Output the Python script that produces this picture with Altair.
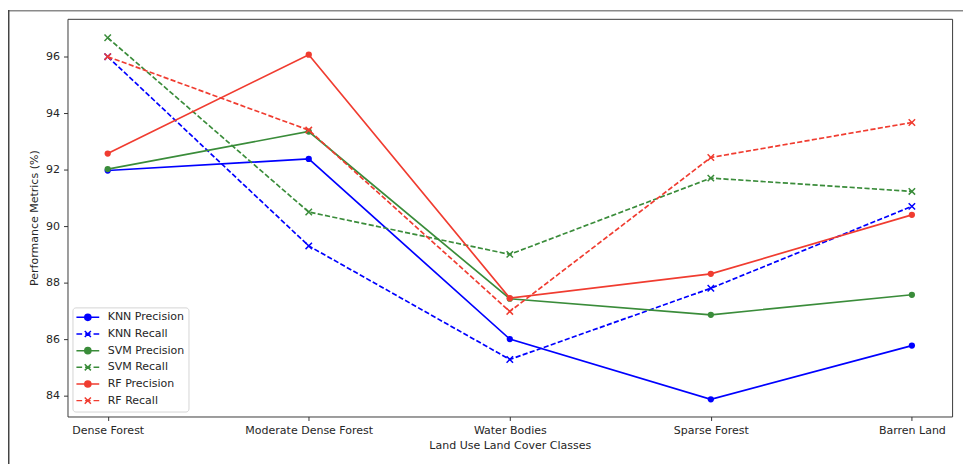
import altair as alt
import pandas as pd

categories = ["Dense Forest", "Moderate Dense Forest", "Water Bodies", "Sparse Forest", "Barren Land"]
series_names = ["KNN Precision", "KNN Recall", "SVM Precision", "SVM Recall", "RF Precision", "RF Recall"]
knn_precision = [91.97, 92.38, 86.00, 83.87, 85.77]
knn_recall = [96.00, 89.30, 85.28, 87.80, 90.70]
svm_precision = [92.02, 93.35, 87.43, 86.86, 87.57]
svm_recall = [96.67, 90.50, 89.00, 91.70, 91.23]
rf_precision = [92.57, 96.07, 87.45, 88.31, 90.40]
rf_recall = [96.00, 93.40, 86.98, 92.43, 93.67]
series_values = [knn_precision, knn_recall, svm_precision, svm_recall, rf_precision, rf_recall]
series_colors = ["#0000ff", "#0000ff", "#3a8c3a", "#3a8c3a", "#f03c30", "#f03c30"]
y_ticks = [84, 86, 88, 90, 92, 94, 96]
y_domain = [83.26, 97.34]

rows = []
for name, vals in zip(series_names, series_values):
    metric = name.split()[1]
    for c, v in zip(categories, vals):
        rows.append({"category": c, "series": name, "metric": metric, "value": v})
df = pd.DataFrame(rows)

FONT = "DejaVu Sans"
TXT = "#262626"
FS = 11.1

X_PATH = "M-1,-1L1,1M-1,1L1,-1"
P_LEG = "M-2.3,0H2.3M0.62,0A0.62,0.62 0 1 1 -0.62,0A0.62,0.62 0 1 1 0.62,0Z"
R_LEG = "M-2.3,0H-1.15M-0.55,0H0.55M1.15,0H2.3M-0.62,-0.62L0.62,0.62M-0.62,0.62L0.62,-0.62"
legend_shapes = [P_LEG if n.endswith("Precision") else R_LEG for n in series_names]

x_enc = alt.X(
    "category:N", sort=categories,
    scale=alt.Scale(type="point", domain=categories, padding=0.2),
    axis=alt.Axis(title="Land Use Land Cover Classes", labelAngle=0, tickSize=4, labelPadding=4.5,
                  titleY=32, titleBaseline="alphabetic", domain=False, grid=False, labelOverlap=False),
)
y_enc = alt.Y(
    "value:Q",
    scale=alt.Scale(domain=y_domain, nice=False, zero=False),
    axis=alt.Axis(title="Performance Metrics (%)", values=y_ticks, tickSize=4, labelPadding=4,
                  titleX=-30, titleY=200.5, titleBaseline="alphabetic", domain=False, grid=False),
)

layers = []
for name, col in zip(series_names, series_colors):
    sub = alt.Chart(df).transform_filter(alt.datum.series == name)
    if name.endswith("Recall"):
        line = sub.mark_line(color=col, strokeWidth=1.7, strokeDash=[5.2, 2.3])
        pts = sub.mark_point(color=col, shape=X_PATH, filled=False, size=42, strokeWidth=1.5, opacity=1)
    else:
        line = sub.mark_line(color=col, strokeWidth=1.7)
        pts = sub.mark_point(color=col, shape="circle", filled=True, size=40, opacity=1)
    layers.append(line.encode(x=x_enc, y=y_enc))
    layers.append(pts.encode(x=x_enc, y=y_enc))

leg = alt.Legend(
    title=None, orient="bottom-left", offset=5, padding=4, symbolSize=100, symbolStrokeWidth=1.5,
    symbolOffset=5.5, labelOffset=14, rowPadding=2.8, labelFont=FONT, labelFontSize=FS, labelColor=TXT,
    strokeColor="#d4d4d4", fillColor="#ffffff", cornerRadius=3,
)
legend_layer = alt.Chart(df).mark_point(filled=True, opacity=1, size=0).encode(
    x=x_enc, y=y_enc,
    fill=alt.Fill("series:N", scale=alt.Scale(domain=series_names, range=series_colors), legend=leg),
    stroke=alt.Stroke("series:N", scale=alt.Scale(domain=series_names, range=series_colors), legend=leg),
    shape=alt.Shape("series:N", scale=alt.Scale(domain=series_names, range=legend_shapes), legend=leg),
)
layers.append(legend_layer)

frame_df = pd.DataFrame({"k": [0]})
top_line = alt.Chart(frame_df).mark_rule(color="#8a8a8a", strokeWidth=1.5).encode(
    x=alt.value(-60), x2=alt.value(903), y=alt.value(-8.25))
left_line = alt.Chart(frame_df).mark_rule(color="#444444", strokeWidth=1.5).encode(
    x=alt.value(-59.25), y=alt.value(-9), y2=alt.value(449))
layers += [top_line, left_line]

chart = alt.layer(*layers).properties(
    width=892, height=401,
    padding={"left": 60, "top": 9, "right": 11, "bottom": 48},
    autosize=alt.AutoSizeParams(type="none"),
).configure_view(
    stroke="#3a3a3a", strokeWidth=1
).configure_axis(
    labelFont=FONT, titleFont=FONT, labelFontSize=FS, titleFontSize=FS,
    labelColor=TXT, titleColor=TXT, titleFontWeight="normal", tickColor="#333333", tickWidth=1,
)

chart.save("out.html", embed_options={"renderer": "svg", "actions": False})
